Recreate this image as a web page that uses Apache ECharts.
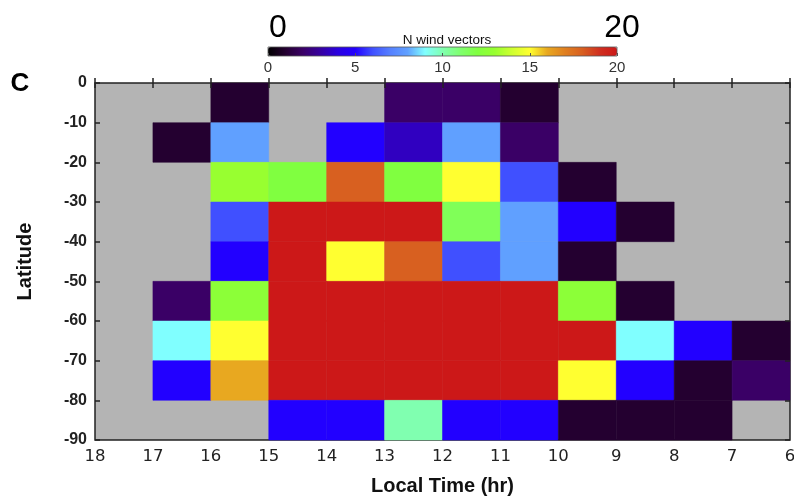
<!DOCTYPE html>
<html>
<head>
<meta charset="utf-8">
<script src="https://cdn.jsdelivr.net/npm/echarts@6/dist/echarts.min.js"></script>
<style>html,body{margin:0;padding:0;background:#fff;}#c{width:794px;height:496px;}</style>
</head>
<body>
<div id="c"></div>
<script>
// Column start local times (each cell spans start -> start-1 hr)
const localTimeStarts = [18,17,16,15,14,13,12,11,10,9,8,7];
// Row top latitudes (each cell spans top -> top-10)
const latitudeTops = [0,-10,-20,-30,-40,-50,-60,-70,-80];
// N wind vectors per cell; null = no data (gray)
const row0  = [null,null,1,null,null,2,2,1,null,null,null,null];
const row10 = [null,1,8,null,5,3.5,8,2,null,null,null,null];
const row20 = [null,null,13,12,18,12,15,6,1,null,null,null];
const row30 = [null,null,6,20,20,20,11.5,8,5,1,null,null];
const row40 = [null,null,5,20,15,18,6,8,1,null,null,null];
const row50 = [null,2,12.5,20,20,20,20,20,12.5,1,null,null];
const row60 = [null,9,15,20,20,20,20,20,20,9,5,1];
const row70 = [null,5,16,20,20,20,20,20,15,5,1,2];
const row80 = [null,null,null,5,5,10,5,5,1,1,1,null];
const rows = [row0,row10,row20,row30,row40,row50,row60,row70,row80];
const colorbarTicks = [0,5,10,15,20];

const cells = [];
rows.forEach((r, i) => r.forEach((v, j) => {
  if (v !== null) cells.push([localTimeStarts[j], latitudeTops[i], v]);
}));

const jet = ['#000000','#240030','#3a0066','#3600a0','#2a00e0','#2200ff','#4050ff','#5580ff','#60a0ff','#80ffff','#80ffb0',
             '#80ff70','#80ff40','#98ff30','#d0ff30','#ffff30','#e8a820','#e08020','#d86020','#d03020','#cc1818'];

const chart = echarts.init(document.getElementById('c'));
const tickStyle = {show:true, inside:true, length:5, lineStyle:{color:'#222', width:1.5}};
chart.setOption({
  animation:false,
  backgroundColor:'#fff',
  grid:[
    {left:95, top:83, width:695, height:357, show:true, backgroundColor:'#b4b4b4', borderColor:'#222', borderWidth:1.5,
     outerBoundsMode:'none', containLabel:false},
    {left:268, top:47, width:349, height:9, show:false, outerBoundsMode:'none', containLabel:false}
  ],
  xAxis:[
    {gridIndex:0, type:'value', min:6, max:18, interval:1, inverse:true, z:10,
     axisLine:{show:false}, splitLine:{show:false}, axisTick:tickStyle,
     axisLabel:{fontFamily:'DejaVu Sans', fontSize:16.5, color:'#222', margin:8},
     name:'Local Time (hr)', nameLocation:'middle', nameGap:36,
     nameTextStyle:{fontFamily:'Liberation Sans', fontWeight:'bold', fontSize:20, color:'#111'}},
    {gridIndex:0, type:'value', position:'top', min:6, max:18, interval:1, inverse:true, z:10,
     axisLine:{show:false}, splitLine:{show:false}, axisTick:tickStyle, axisLabel:{show:false}},
    {gridIndex:1, type:'value', min:0, max:20, interval:5, z:10,
     axisLine:{show:false}, splitLine:{show:false},
     axisTick:{show:true, inside:true, length:3, lineStyle:{color:'#555', width:1}},
     axisLabel:{fontFamily:'Liberation Sans', fontSize:15, color:'#333', margin:4,
       formatter: v => colorbarTicks.includes(v) ? String(v) : ''}}
  ],
  yAxis:[
    {gridIndex:0, type:'value', min:-90, max:0, interval:10, z:10,
     axisLine:{show:false}, splitLine:{show:false}, axisTick:tickStyle,
     axisLabel:{fontFamily:'Liberation Sans', fontWeight:'bold', fontSize:16, color:'#222', margin:8},
     name:'Latitude', nameLocation:'middle', nameGap:60,
     nameTextStyle:{fontFamily:'Liberation Sans', fontWeight:'bold', fontSize:20, color:'#111'}},
    {gridIndex:0, type:'value', position:'right', min:-90, max:0, interval:10, z:10,
     axisLine:{show:false}, splitLine:{show:false}, axisTick:tickStyle, axisLabel:{show:false}},
    {gridIndex:1, type:'value', show:false, min:0, max:1}
  ],
  visualMap:{
    type:'continuous', min:0, max:20, seriesIndex:0, dimension:2,
    orient:'horizontal', left:268, top:47, itemWidth:9, itemHeight:349, padding:0,
    calculable:false, hoverLink:false, text:null, showLabel:false,
    inRange:{color:jet}
  },
  graphic:[
    {type:'text', x:447, y:40, style:{text:'N wind vectors', font:'13.5px "Liberation Sans"', fill:'#111', align:'center', verticalAlign:'middle'}},
    {type:'text', x:278, y:28, style:{text:'0', font:'32px "Liberation Sans"', fill:'#000', align:'center', verticalAlign:'middle'}},
    {type:'text', x:622, y:28, style:{text:'20', font:'32px "Liberation Sans"', fill:'#000', align:'center', verticalAlign:'middle'}},
    {type:'text', x:20, y:84, style:{text:'C', font:'bold 26px "Liberation Sans"', fill:'#000', align:'center', verticalAlign:'middle'}},
    {type:'rect', shape:{x:268, y:47, width:349, height:9}, style:{fill:'none', stroke:'#555', lineWidth:0.8}, z:100}
  ],
  series:[{
    type:'custom', xAxisIndex:0, yAxisIndex:0, data:cells, z:2,
    renderItem:(params, api) => {
      const t = api.value(0), lat = api.value(1);
      const p1 = api.coord([t, lat]);
      const p2 = api.coord([t - 1, lat - 10]);
      const c = api.visual('color');
      return {type:'rect',
        shape:{x:Math.min(p1[0],p2[0]), y:Math.min(p1[1],p2[1]), width:Math.abs(p2[0]-p1[0]), height:Math.abs(p2[1]-p1[1])},
        style:{fill:c, stroke:c, lineWidth:0.5}};
    }
  }]
});
</script>
</body>
</html>
